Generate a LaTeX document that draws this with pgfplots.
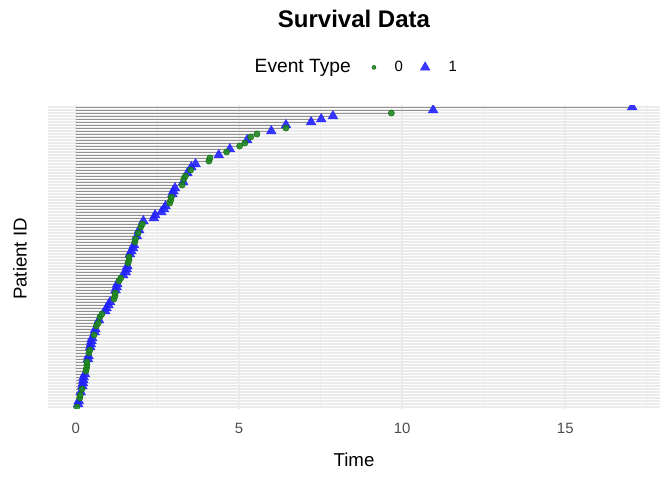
\documentclass[border=0pt]{standalone}
\usepackage{fontspec}
\setmainfont{Liberation Sans}
\usepackage{pgfplots}
\usepackage{pgfplotstable}
\pgfplotsset{compat=1.18}
\definecolor{seggray}{RGB}{145,145,145}
\definecolor{grid92}{RGB}{235,235,235}
\definecolor{evgreen}{RGB}{34,139,34}
\definecolor{evgreenedge}{RGB}{20,110,20}
\definecolor{evblue}{RGB}{35,35,255}
\definecolor{tickgray}{RGB}{77,77,77}

% all patients: row (sorted by time), time
\pgfplotstableread{
row time
1 0.03
2 0.07
3 0.09
4 0.12
5 0.14
6 0.15
7 0.19
8 0.20
9 0.22
10 0.23
11 0.24
12 0.28
13 0.31
14 0.33
15 0.34
16 0.34
17 0.37
18 0.39
19 0.40
20 0.43
21 0.44
22 0.46
23 0.48
24 0.50
25 0.56
26 0.58
27 0.60
28 0.63
29 0.69
30 0.71
31 0.74
32 0.80
33 0.90
34 0.94
35 1.00
36 1.05
37 1.17
38 1.20
39 1.21
40 1.22
41 1.25
42 1.27
43 1.32
44 1.38
45 1.45
46 1.53
47 1.56
48 1.58
49 1.60
50 1.63
51 1.63
52 1.66
53 1.70
54 1.75
55 1.78
56 1.81
57 1.83
58 1.87
59 1.91
60 1.94
61 1.99
62 2.04
63 2.07
64 2.39
65 2.43
66 2.62
67 2.70
68 2.75
69 2.88
70 2.91
71 2.93
72 2.96
73 2.99
74 3.04
75 3.26
76 3.29
77 3.31
78 3.36
79 3.42
80 3.52
81 3.54
82 3.67
83 4.08
84 4.11
85 4.38
86 4.62
87 4.72
88 5.02
89 5.18
90 5.25
91 5.36
92 5.55
93 5.99
94 6.44
95 6.44
96 7.21
97 7.52
98 7.88
99 9.67
100 10.95
101 17.05
}\survall

% event type 0
\pgfplotstableread{
row time
1 0.03
4 0.12
5 0.14
7 0.19
13 0.31
14 0.33
15 0.34
16 0.34
19 0.40
20 0.43
25 0.56
28 0.63
29 0.69
31 0.74
32 0.80
37 1.17
38 1.20
39 1.21
43 1.32
44 1.38
49 1.60
50 1.63
51 1.63
56 1.81
57 1.83
59 1.91
61 1.99
62 2.04
69 2.88
70 2.91
71 2.93
75 3.26
77 3.31
78 3.36
80 3.52
83 4.08
84 4.11
86 4.62
88 5.02
89 5.18
91 5.36
92 5.55
94 6.44
99 9.67
}\survzero

% event type 1
\pgfplotstableread{
row time
2 0.07
3 0.09
6 0.15
8 0.20
9 0.22
10 0.23
11 0.24
12 0.28
17 0.37
18 0.39
21 0.44
22 0.46
23 0.48
24 0.50
26 0.58
27 0.60
30 0.71
33 0.90
34 0.94
35 1.00
36 1.05
40 1.22
41 1.25
42 1.27
45 1.45
46 1.53
47 1.56
48 1.58
52 1.66
53 1.70
54 1.75
55 1.78
58 1.87
60 1.94
63 2.07
64 2.39
65 2.43
66 2.62
67 2.70
68 2.75
72 2.96
73 2.99
74 3.04
76 3.29
79 3.42
81 3.54
82 3.67
85 4.38
87 4.72
90 5.25
93 5.99
95 6.44
96 7.21
97 7.52
98 7.88
100 10.95
101 17.05
}\survone

\pgfplotsset{
  tristyle/.style={only marks, mark=triangle*, mark size=4.2pt,
    mark options={draw=evblue, line width=0.3pt, fill=evblue, fill opacity=0.9, draw opacity=0.9}},
}

\begin{document}
\begin{tikzpicture}
\useasboundingbox (0,0) rectangle (504pt,360pt);
\begin{axis}[
  at={(36pt,53.4pt)}, anchor=south west,
  scale only axis, width=459pt, height=227.7pt,
  xmin=-0.8525, xmax=17.9025, ymin=0.4, ymax=101.6,
  axis line style={draw=none},
  tick style={draw=none},
  major tick length=0pt, minor tick length=0pt,
  xtick={0,5,10,15}, minor xtick={2.5,7.5,12.5,17.5},
  ytick={1,...,101}, yticklabels=\empty,
  xmajorgrids, xminorgrids, ymajorgrids,
  major grid style={draw=grid92, line width=1.2pt},
  minor grid style={draw=grid92, line width=0.6pt},
  xticklabel style={font=\fontsize{11.2}{13}\selectfont, text=tickgray, anchor=north, inner sep=0pt, yshift=-10.4pt},
  /pgf/number format/assume math mode=true,
  clip marker paths=true,
  legend columns=-1,
  legend style={draw=none, fill=none, at={(axis description cs:0.5294,1.1247)}, anchor=west,
    inner sep=0pt, outer sep=0pt, font=\fontsize{11.2}{13}\selectfont,
    /tikz/every odd column/.append style={column sep=12pt},
    /tikz/every even column/.append style={column sep=11pt}},
]
\addplot[xcomb, draw=seggray, line width=0.72pt, mark=none, forget plot] table[x=time,y=row] {\survall};
\addplot[tristyle, forget plot] table[x=time,y=row] {\survone};
\addplot[only marks, mark=*, mark size=2.3pt,
  mark options={draw=evgreenedge, line width=0.4pt, fill=evgreen, fill opacity=0.9, draw opacity=1},
  legend image post style={mark size=1.5pt}] table[x=time,y=row] {\survzero};
\addlegendentry{0}
\addlegendimage{tristyle}
\addlegendentry{1}
\end{axis}
\node[anchor=base, font=\bfseries\fontsize{18}{21}\selectfont] at (265.5pt,339.2pt) {Survival Data};
\node[anchor=base west, font=\fontsize{14.4}{16}\selectfont] at (187.5pt,305.5pt) {Event Type};
\node[anchor=base, font=\fontsize{14}{16}\selectfont] at (265.5pt,10pt) {Time};
\node[anchor=base, rotate=90, font=\fontsize{14}{16}\selectfont] at (20pt,165.75pt) {Patient ID};
\end{tikzpicture}
\end{document}
